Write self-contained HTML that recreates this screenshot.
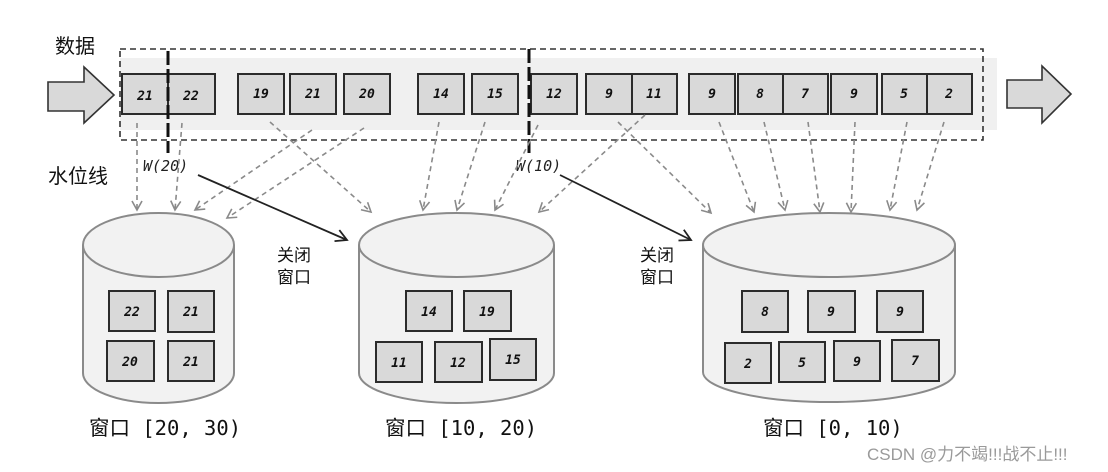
<!DOCTYPE html>
<html><head><meta charset="utf-8"><style>
html,body{margin:0;padding:0;background:#fff;width:1108px;height:472px;overflow:hidden}
svg{display:block}
.b{fill:#d9d9d9;stroke:#2b2b2b;stroke-width:2}
.bt{font-family:"DejaVu Sans Mono","Liberation Mono",monospace;font-style:italic;font-weight:bold;font-size:13px;fill:#111;text-anchor:middle}
.d{stroke:#8a8a8a;stroke-width:1.6;stroke-dasharray:5,4;fill:none}
.h{stroke:#8a8a8a;stroke-width:1.6;fill:none}
.cj{font-family:"Liberation Sans","Noto Sans CJK SC",sans-serif;fill:#111}
.lb{font-family:"DejaVu Sans Mono","Liberation Mono","Noto Sans CJK SC",monospace;font-size:20.5px;fill:#111}
.w{font-family:"DejaVu Sans Mono","Liberation Mono",monospace;font-style:italic;font-size:15px;fill:#222}
.cy{fill:#f2f2f2;stroke:#8a8a8a;stroke-width:2}
</style></head><body>
<svg width="1108" height="472" viewBox="0 0 1108 472" xmlns="http://www.w3.org/2000/svg">
<defs>
<marker id="ag" markerWidth="12" markerHeight="12" refX="10" refY="6" orient="auto" markerUnits="userSpaceOnUse"><path d="M1,1 L10,6 L1,11" class="h"/></marker>
<marker id="ak" markerWidth="14" markerHeight="14" refX="12" refY="7" orient="auto" markerUnits="userSpaceOnUse"><path d="M1,1 L12,7 L1,13" fill="none" stroke="#222" stroke-width="1.8"/></marker>
</defs>
<text x="55" y="53" class="cj" font-size="20">数据</text>
<text x="48" y="183" class="cj" font-size="20">水位线</text>
<rect x="120" y="58" width="877" height="72" fill="#f0f0f0"/>
<rect x="120" y="49" width="863" height="91" fill="none" stroke="#333" stroke-width="1.6" stroke-dasharray="6,4"/>
<polygon points="48,82 84,82 84,67 114,95 84,123 84,111 48,111" fill="#d9d9d9" stroke="#333" stroke-width="1.6"/>
<polygon points="1007,80 1042,80 1042,66 1071,94 1042,123 1042,108 1007,108" fill="#d9d9d9" stroke="#333" stroke-width="1.6"/>
<g>
<rect x="122" y="74" width="46" height="40" class="b"/><text x="145" y="100" class="bt">21</text>
<rect x="168" y="74" width="47" height="40" class="b"/><text x="191" y="100" class="bt">22</text>
<rect x="238" y="74" width="46" height="40" class="b"/><text x="261" y="98" class="bt">19</text>
<rect x="290" y="74" width="46" height="40" class="b"/><text x="313" y="98" class="bt">21</text>
<rect x="344" y="74" width="46" height="40" class="b"/><text x="367" y="98" class="bt">20</text>
<rect x="418" y="74" width="46" height="40" class="b"/><text x="441" y="98" class="bt">14</text>
<rect x="472" y="74" width="46" height="40" class="b"/><text x="495" y="98" class="bt">15</text>
<rect x="531" y="74" width="46" height="40" class="b"/><text x="554" y="98" class="bt">12</text>
<rect x="586" y="74" width="46" height="40" class="b"/><text x="609" y="98" class="bt">9</text>
<rect x="632" y="74" width="45" height="40" class="b"/><text x="654" y="98" class="bt">11</text>
<rect x="689" y="74" width="46" height="40" class="b"/><text x="712" y="98" class="bt">9</text>
<rect x="738" y="74" width="45" height="40" class="b"/><text x="760" y="98" class="bt">8</text>
<rect x="783" y="74" width="45" height="40" class="b"/><text x="805" y="98" class="bt">7</text>
<rect x="831" y="74" width="46" height="40" class="b"/><text x="854" y="98" class="bt">9</text>
<rect x="882" y="74" width="45" height="40" class="b"/><text x="904" y="98" class="bt">5</text>
<rect x="927" y="74" width="45" height="40" class="b"/><text x="949" y="98" class="bt">2</text>
</g>
<line x1="168" y1="51" x2="168" y2="153" stroke="#111" stroke-width="3" stroke-dasharray="14,4"/>
<line x1="529" y1="49" x2="529" y2="153" stroke="#111" stroke-width="3" stroke-dasharray="14,4"/>
<text x="143" y="171" class="w">W(20)</text>
<text x="516" y="171" class="w">W(10)</text>
<g marker-end="url(#ag)">
<line x1="137" y1="123" x2="137" y2="210" class="d"/>
<line x1="182" y1="123" x2="175" y2="210" class="d"/>
<line x1="312" y1="130" x2="195" y2="210" class="d"/>
<line x1="364" y1="128" x2="227" y2="218" class="d"/>
<line x1="270" y1="122" x2="371" y2="212" class="d"/>
<line x1="439" y1="122" x2="423" y2="210" class="d"/>
<line x1="485" y1="122" x2="457" y2="210" class="d"/>
<line x1="538" y1="125" x2="495" y2="210" class="d"/>
<line x1="645" y1="115" x2="539" y2="212" class="d"/>
<line x1="618" y1="122" x2="711" y2="213" class="d"/>
<line x1="719" y1="122" x2="754" y2="212" class="d"/>
<line x1="764" y1="122" x2="785" y2="210" class="d"/>
<line x1="808" y1="122" x2="820" y2="212" class="d"/>
<line x1="855" y1="122" x2="851" y2="212" class="d"/>
<line x1="907" y1="122" x2="890" y2="210" class="d"/>
<line x1="944" y1="122" x2="917" y2="210" class="d"/>
</g>
<line x1="198" y1="175" x2="347" y2="240" stroke="#222" stroke-width="1.8" marker-end="url(#ak)"/>
<line x1="560" y1="175" x2="691" y2="240" stroke="#222" stroke-width="1.8" marker-end="url(#ak)"/>
<text x="277" y="261" class="cj" font-size="17">关闭</text>
<text x="277" y="283" class="cj" font-size="17">窗口</text>
<text x="640" y="261" class="cj" font-size="17">关闭</text>
<text x="640" y="283" class="cj" font-size="17">窗口</text>
<path d="M83,245 L83,373 A75.5,30 0 0 0 234,373 L234,245" class="cy"/>
<ellipse cx="158.5" cy="245" rx="75.5" ry="32" class="cy"/>
<path d="M359,245 L359,373 A97.5,30 0 0 0 554,373 L554,245" class="cy"/>
<ellipse cx="456.5" cy="245" rx="97.5" ry="32" class="cy"/>
<path d="M703,245 L703,372 A126,30 0 0 0 955,372 L955,245" class="cy"/>
<ellipse cx="829" cy="245" rx="126" ry="32" class="cy"/>
<g>
<rect x="109" y="291" width="46" height="40" class="b"/><text x="132" y="316" class="bt">22</text>
<rect x="168" y="291" width="46" height="41" class="b"/><text x="191" y="316" class="bt">21</text>
<rect x="107" y="341" width="47" height="40" class="b"/><text x="130" y="366" class="bt">20</text>
<rect x="168" y="341" width="46" height="40" class="b"/><text x="191" y="366" class="bt">21</text>
<rect x="406" y="291" width="46" height="40" class="b"/><text x="429" y="316" class="bt">14</text>
<rect x="464" y="291" width="47" height="40" class="b"/><text x="487" y="316" class="bt">19</text>
<rect x="376" y="342" width="46" height="40" class="b"/><text x="399" y="367" class="bt">11</text>
<rect x="435" y="342" width="47" height="40" class="b"/><text x="458" y="367" class="bt">12</text>
<rect x="490" y="339" width="46" height="41" class="b"/><text x="513" y="364" class="bt">15</text>
<rect x="742" y="291" width="46" height="41" class="b"/><text x="765" y="316" class="bt">8</text>
<rect x="808" y="291" width="47" height="41" class="b"/><text x="831" y="316" class="bt">9</text>
<rect x="877" y="291" width="46" height="41" class="b"/><text x="900" y="316" class="bt">9</text>
<rect x="725" y="343" width="46" height="40" class="b"/><text x="748" y="368" class="bt">2</text>
<rect x="779" y="342" width="46" height="40" class="b"/><text x="802" y="367" class="bt">5</text>
<rect x="834" y="341" width="46" height="40" class="b"/><text x="857" y="366" class="bt">9</text>
<rect x="892" y="340" width="47" height="41" class="b"/><text x="915" y="365" class="bt">7</text>
</g>
<text x="89" y="435" class="lb">窗口 [20, 30)</text>
<text x="385" y="435" class="lb">窗口 [10, 20)</text>
<text x="763" y="435" class="lb">窗口 [0, 10)</text>
<text x="867" y="460" class="cj" font-size="17" style="fill:#9a9a9a">CSDN @力不竭!!!战不止!!!</text>
</svg>
</body></html>
